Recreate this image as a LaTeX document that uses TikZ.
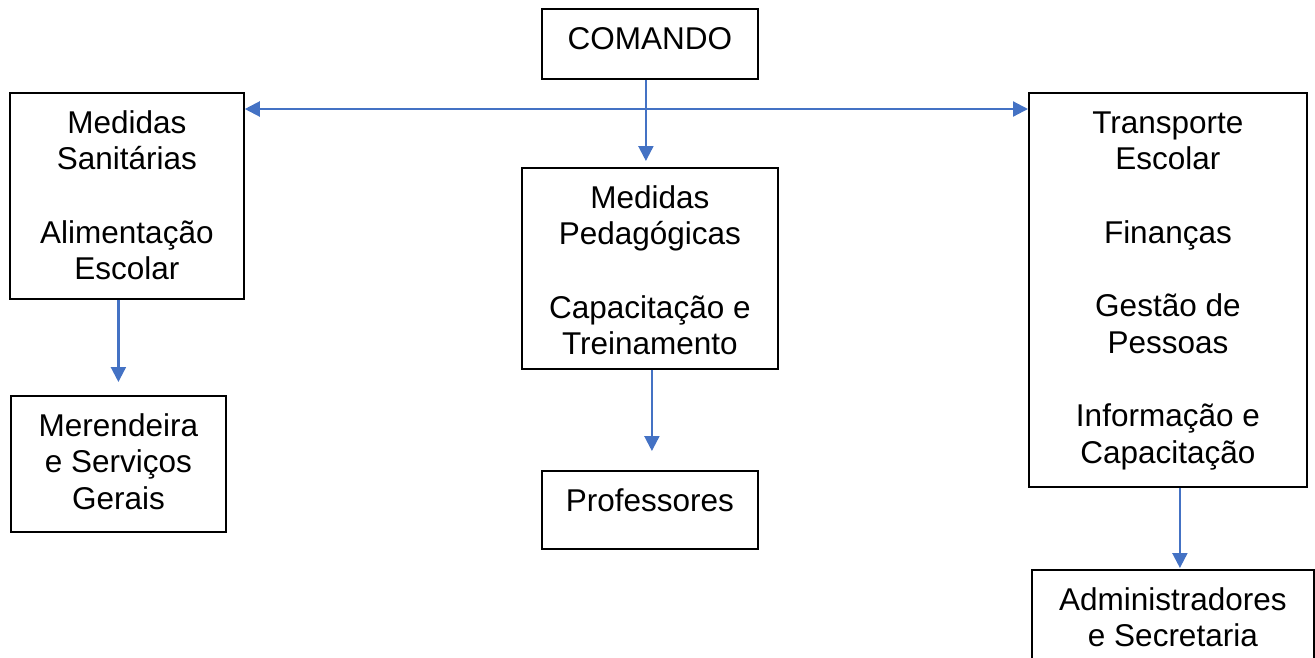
\documentclass[tikz,border=0pt]{standalone}
\usepackage{fontspec}
\setmainfont{Liberation Sans}
\usetikzlibrary{arrows.meta,calc}
\definecolor{arrowblue}{HTML}{4472C4}
\begin{document}
\begin{tikzpicture}[x=1pt,y=1pt,
  box/.style={draw=black,line width=1.8pt,inner sep=0pt,anchor=north west},
  txt/.style={anchor=north,align=center,inner sep=0pt,font=\fontsize{31.5}{36.7}\selectfont},
  conn/.style={draw=arrowblue,line width=2.2pt,-{Triangle[length=15pt,width=15pt]}},
  conn2/.style={draw=arrowblue,line width=2.2pt,{Triangle[length=15pt,width=15pt]}-{Triangle[length=15pt,width=15pt]}}]
\useasboundingbox (0,0) rectangle (1315,-657);
\node[box,minimum width=216pt,minimum height=70pt] (C) at (541,-8) {};
\node[box,minimum width=234pt,minimum height=206pt] (L) at (9,-92) {};
\node[box,minimum width=256pt,minimum height=201pt] (M) at (521,-167) {};
\node[box,minimum width=278pt,minimum height=394pt] (R) at (1028,-92) {};
\node[box,minimum width=215pt,minimum height=136pt] (Mer) at (10,-395) {};
\node[box,minimum width=216pt,minimum height=78pt] (P) at (541,-470) {};
\node[box,minimum width=282pt,minimum height=131pt] (A) at (1031,-569) {};
\node[txt] (Ct) at ($(C.north)+(0,-15.3)$) {\strut COMANDO};
\node[txt] (Lt) at ($(L.north)+(0,-15.3)$) {\strut Medidas\\Sanitárias\\[36.7pt]Alimentação\\Escolar};
\node[txt] (Mt) at ($(M.north)+(0,-15.3)$) {\strut Medidas\\Pedagógicas\\[36.7pt]Capacitação e\\Treinamento};
\node[txt] (Rt) at ($(R.north)+(0,-15.3)$) {\strut Transporte\\Escolar\\[36.7pt]Finanças\\[36.7pt]Gestão de\\Pessoas\\[36.7pt]Informação e\\Capacitação};
\node[txt] (Mert) at ($(Mer.north)+(0,-15.3)$) {\strut Merendeira\\e Serviços\\Gerais};
\node[txt] (Pt) at ($(P.north)+(0,-15.3)$) {\strut Professores};
\node[txt] (At) at ($(A.north)+(0,-15.3)$) {\strut Administradores\\e Secretaria};
\coordinate (hy) at (645,-109);
\coordinate (ca) at ($(C.south)+(-4,0)$);
\coordinate (ma) at ($(M.south)+(2,0)$);
\coordinate (ra) at ($(R.south)+(12,0)$);
\draw[conn2] (L.east |- hy) -- (R.west |- hy);
\draw[conn,shorten >=6pt] (ca) -- (ca |- M.north);
\draw[conn,shorten >=13pt] (L.south -| Mer.north) -- (Mer.north);
\draw[conn,shorten >=19pt] (ma) -- (ma |- P.north);
\draw[conn,shorten >=1pt] (ra) -- (ra |- A.north);
\end{tikzpicture}
\end{document}
